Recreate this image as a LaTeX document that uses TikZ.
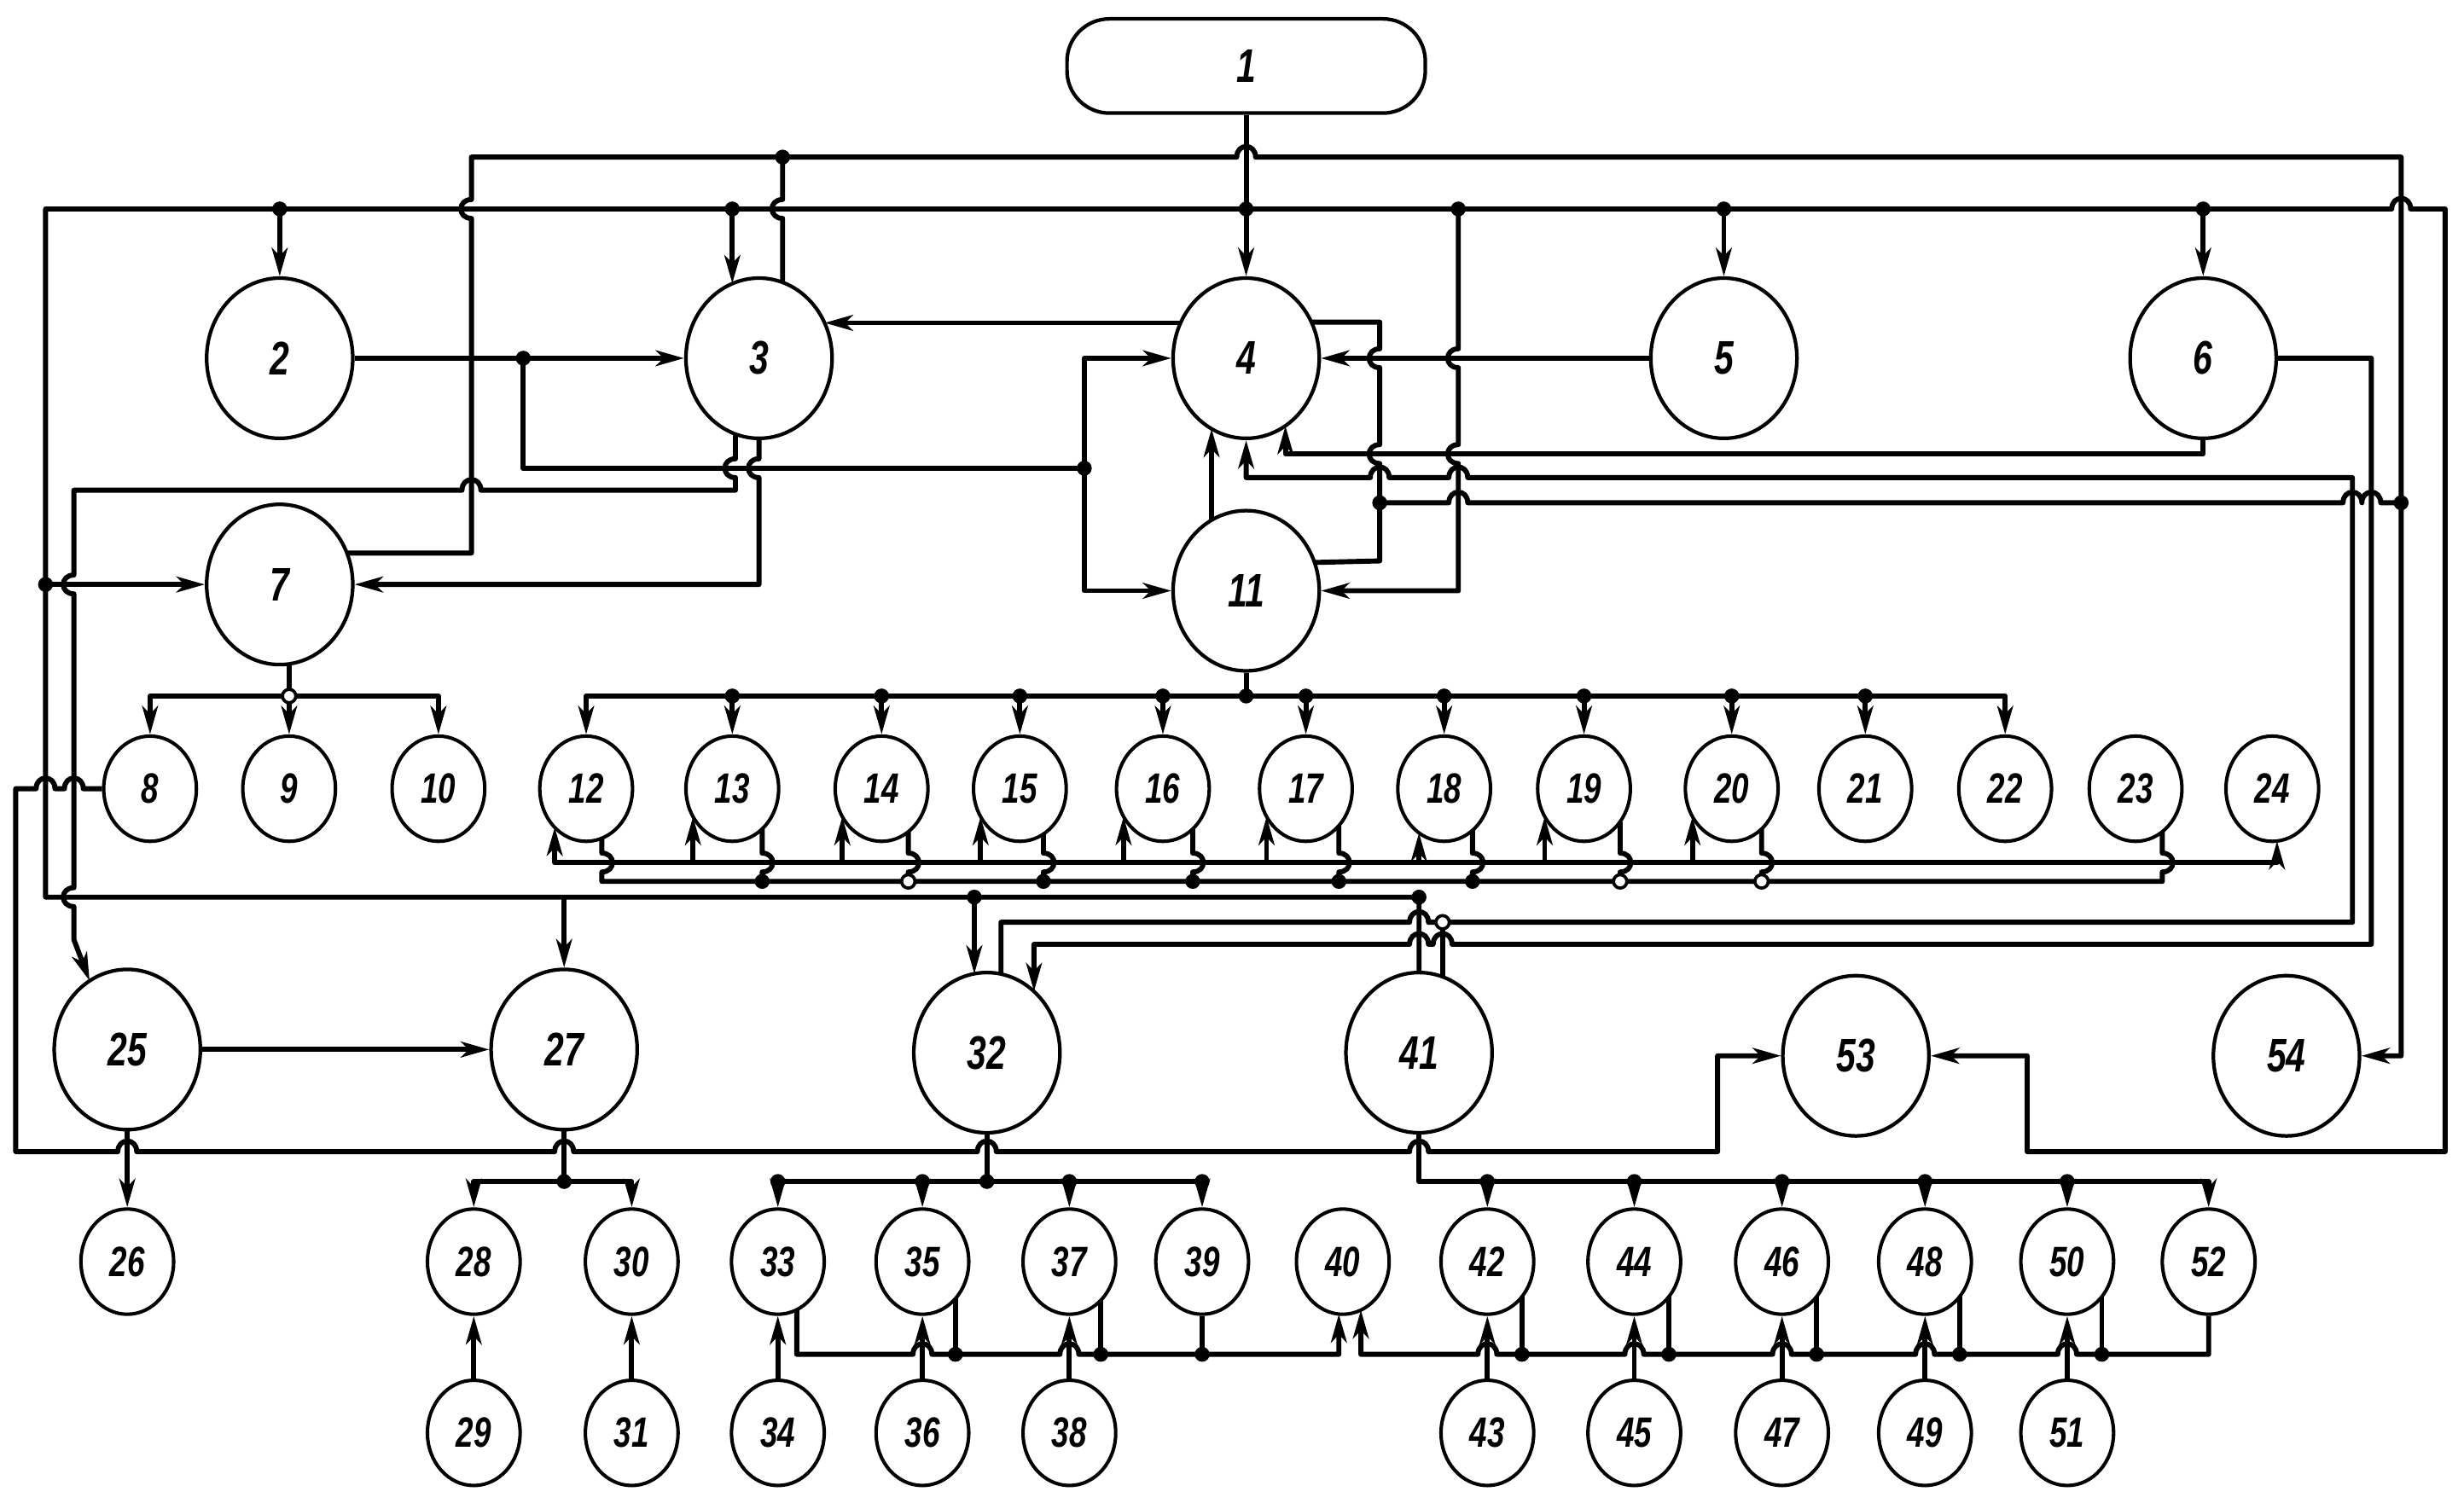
\documentclass[tikz,border=0pt]{standalone}
\usepackage{fontspec}
\setmainfont{Liberation Sans}
\usetikzlibrary{shapes.geometric,arrows.meta,calc}
\newcommand\lb[1]{\scalebox{0.74}[1]{#1}}
\tikzset{
 big/.style={ellipse,draw,line width=2.3pt,minimum width=93pt,minimum height=102pt,inner sep=0pt,font=\fontsize{30}{30}\selectfont\bfseries\itshape},
 sml/.style={ellipse,draw,line width=2.2pt,minimum width=59pt,minimum height=67pt,inner sep=0pt,font=\fontsize{27}{27}\selectfont\bfseries\itshape},
 ln/.style={line width=3.2pt,line join=round},
 arr/.style={ln,-{Stealth[length=18pt,width=10pt,inset=5pt]}},
 darr/.style={ln,{Stealth[length=18pt,width=10pt,inset=5pt]}-{Stealth[length=18pt,width=10pt,inset=5pt]}},
 dot/.style={circle,fill,inner sep=0pt,minimum size=9.5pt},
 odot/.style={circle,draw,fill=white,line width=2pt,inner sep=0pt,minimum size=8.5pt},
 hR/.style args={#1,#2}{insert path={-- ({#1-6},{#2}) .. controls ({#1-6},{#2-9}) and ({#1+6},{#2-9}) .. ({#1+6},{#2})}},
 hL/.style args={#1,#2}{insert path={-- ({#1+6},{#2}) .. controls ({#1+6},{#2-9}) and ({#1-6},{#2-9}) .. ({#1-6},{#2})}},
 vD/.style args={#1,#2}{insert path={-- ({#1},{#2-6}) .. controls ({#1-9},{#2-6}) and ({#1-9},{#2+6}) .. ({#1},{#2+6})}},
 vU/.style args={#1,#2}{insert path={-- ({#1},{#2+6}) .. controls ({#1-9},{#2+6}) and ({#1-9},{#2-6}) .. ({#1},{#2-6})}},
 vDr/.style args={#1,#2}{insert path={-- ({#1},{#2-6}) .. controls ({#1+9},{#2-6}) and ({#1+9},{#2+6}) .. ({#1},{#2+6})}},
 vUr/.style args={#1,#2}{insert path={-- ({#1},{#2+6}) .. controls ({#1+9},{#2+6}) and ({#1+9},{#2-6}) .. ({#1},{#2-6})}},
}
\begin{document}
\begin{tikzpicture}[x=1pt,y=-1pt]
\useasboundingbox (0,0) rectangle (1568,960);
% ---------- nodes
\node[draw,line width=2.3pt,rounded corners=27pt,minimum width=228pt,minimum height=60pt,inner sep=0pt,font=\fontsize{30}{30}\selectfont\bfseries\itshape] (n1) at (793,42) {\lb{1}};
\node[big] (n2) at (178,228) {\lb{2}};
\node[big] (n3) at (483,228) {\lb{3}};
\node[big] (n4) at (793,228) {\lb{4}};
\node[big] (n5) at (1097,228) {\lb{5}};
\node[big] (n6) at (1402,228) {\lb{6}};
\node[big] (n7) at (178,372) {\lb{7}};
\node[big] (n11) at (793,376) {\lb{11}};
\foreach \n/\xx in {8/95.5,9/184,10/279,12/373,13/466,14/561,15/649,16/740,17/831,18/919,19/1008,20/1102,21/1187,22/1276,23/1359,24/1446}
  \node[sml] (n\n) at (\xx,502) {\lb{\n}};
\node[big] (n25) at (81,668) {\lb{25}};
\node[big] (n27) at (359,668) {\lb{27}};
\node[big] (n32) at (628,670) {\lb{32}};
\node[big] (n41) at (903,670) {\lb{41}};
\node[big] (n53) at (1181,672) {\lb{53}};
\node[big] (n54) at (1455,672) {\lb{54}};
\foreach \n/\xx in {26/81,28/301.5,30/402,33/495,35/587,37/680.5,39/765,40/854.5,42/946.5,44/1040,46/1134,48/1225,50/1315.5,52/1405.5}
  \node[sml] (n\n) at (\xx,803) {\lb{\n}};
\foreach \n/\xx in {29/301.5,31/402,34/495,36/587,38/680.5,43/946.5,45/1040,47/1134,49/1225,51/1315.5}
  \node[sml] (n\n) at (\xx,912) {\lb{\n}};
% ---------- main bus, line C and feed of 53
\draw[arr] (n41.north) -- (903,571) -- (29,571) -- (29,133) [hR={1528,133}] -- (1556,133) -- (1556,733) -- (1290,733) -- (1290,672) -- (n53.east);
\draw[arr] (n1.south) -- (n4.north);
\draw[arr] (178,133) -- (n2.north);
\draw[arr] (466,133) -- ($(n3.center)+(-17,-47.5)$);
\draw[arr] (1097,133) -- (n5.north);
\draw[arr] (1402,133) -- (n6.north);
% ---------- line from 7 to 54
\draw[arr] ($(n7.center)+(42.8,-20)$) -- (300,352) [vU={300,133}] -- (300,100) [hR={793,100}] -- (1528,100) -- (1528,672) -- (n54.east);
\draw[ln] (498,100) [vD={498,133}] -- ($(n3.center)+(15,-48.3)$);
% ---------- 2, 3, 4, 11 region
\draw[arr] (n2.east) -- (n3.west);
\draw[ln] (333,228) -- (333,298) -- (690,298);
\draw[arr] (690,298) -- (690,228) -- (n4.west);
\draw[arr] (690,298) -- (690,376) -- (n11.west);
\draw[arr] ($(n4.center)+(-41.7,-22.5)$) -- ($(n3.center)+(41.7,-22.5)$);
\draw[arr] ($(n3.center)+(-15,48.3)$) [vD={468,298}] -- (468,312) [hL={300,312}] -- (47,312) [vD={47,372}] [vD={47,571}] -- (47,598) -- ($(n25.center)+(-24,-43.7)$);
\draw[arr] (n3.south) [vD={483,298}] -- (483,372) -- (n7.east);
\draw[arr] (29,372) -- (n7.west);
\draw[arr] (n5.west) -- (n4.east);
\draw[ln] ($(n4.center)+(41.5,-23)$) -- (878,205) [vD={878,228}] [vD={878,289}] -- (878,357) -- ($(n11.center)+(43.5,-18)$);
\draw[ln] (878,320) [hR={928,320}] [hR={1497,320}] [hR={1509,320}] -- (1528,320);
\draw[arr] (928,133) [vD={928,228}] [vD={928,289}] -- (928,376) -- (n11.east);
\draw[arr] (n6.south) -- (1402,289) -- (818,289) -- ($(n4.center)+(25,43)$);
\draw[arr] ($(n11.center)+(-22,-44.9)$) -- ($(n4.center)+(-22,44.9)$);
\draw[arr] ($(n32.center)+(9,-50)$) -- (637,587) [hR={903,587}] -- (1497,587) -- (1497,304) [hL={928,304}] [hL={878,304}] -- (793,304) -- (n4.south);
\draw[arr] (n6.east) -- (1509,228) -- (1509,601) [hL={918,601}] [hL={903,601}] -- (658,601) -- ($(n32.center)+(30,-39)$);
\draw[ln] ($(n41.center)+(15,-48.3)$) -- (918,587);
% ---------- 7 outputs
\draw[ln] ($(n7.center)+(6,50.6)$) -- (184,443);
\draw[arr] (184,443) -- (95.5,443) -- (n8.north);
\draw[arr] (184,443) -- (n9.north);
\draw[arr] (184,443) -- (279,443) -- (n10.north);
% ---------- 11 outputs
\draw[ln] (n11.south) -- (793,443);
\draw[arr] (793,443) -- (373,443) -- (n12.north);
\draw[arr] (793,443) -- (1276,443) -- (n22.north);
\foreach \n/\xx in {13/466,14/561,15/649,16/740,17/831,18/919,19/1008,20/1102,21/1187}
  {\draw[arr] (\xx,443) -- (n\n.north); \node[dot] (u\n) at (\xx,443) {};}
% ---------- lines A and B under 12..24
\draw[darr] ($(n12.center)+(-20,24.6)$) -- (353,549) -- (1449,549) -- ($(n24.center)+(3,33.3)$);
\foreach \n/\xx in {13/441,14/536,15/624,16/715,17/806,19/983,20/1077}
  \draw[arr] (\xx,549) -- ($(n\n.center)+(-25,17.8)$);
\draw[arr] (903,549) -- ($(n18.center)+(-16,28.1)$);
\draw[ln] ($(n12.center)+(10,31.5)$) [vDr={383,549}] -- (383,561) -- (1376,561) [vUr={1376,549}] -- ($(n23.center)+(17,27.4)$);
\foreach \n/\xa/\ya/\xx in {13/19/25.6/485,14/17/27.4/578,15/15/28.8/664,16/19/25.6/759,17/21/23.5/852,18/18/26.5/937,19/23/21/1031,20/19/25.6/1121}
  \draw[ln] ($(n\n.center)+(\xa,\ya)$) [vDr={\xx,549}] -- (\xx,561);
\foreach \xx in {485,664,759,852,937} \node[dot] (v\xx) at (\xx,561) {};
\foreach \xx in {578,1031,1121} \node[odot] (w\xx) at (\xx,561) {};
% ---------- line C branches
\draw[arr] (359,571) -- (n27.north);
\draw[arr] (620,571) -- ($(n32.center)+(-8,-50.2)$);
% ---------- lower part
\draw[arr] (n25.east) -- (n27.west);
\draw[arr] (n25.south) -- (n26.north);
\draw[arr] (n8.west) [hL={47,502}] [hL={29,502}] -- (10,502) -- (10,733) [hR={81,733}] [hR={359,733}] [hR={628,733}] [hR={903,733}] -- (1093,733) -- (1093,672) -- (n53.west);
\draw[ln] (n27.south) -- (359,752);
\draw[arr] (359,752) -- (301.5,752) -- (n28.north);
\draw[arr] (359,752) -- (402,752) -- (n30.north);
\draw[arr] (n29.north) -- (n28.south);
\draw[arr] (n31.north) -- (n30.south);
\draw[ln] (n32.south) -- (628,752);
\draw[arr] (628,752) -- (495,752) -- (n33.north);
\draw[arr] (628,752) -- (765,752) -- (n39.north);
\draw[arr] (587,752) -- (n35.north);
\draw[arr] (680.5,752) -- (n37.north);
\draw[arr] (n34.north) -- (n33.south);
\draw[arr] (n36.north) -- (n35.south);
\draw[arr] (n38.north) -- (n37.south);
\draw[arr] ($(n33.center)+(12,30.6)$) -- (507,862) [hR={587,862}] [hR={680.5,862}] -- (852,862) -- ($(n40.center)+(-2.5,33.4)$);
\draw[ln] (608,862) -- ($(n35.center)+(21,23.5)$);
\draw[ln] (700.5,862) -- ($(n37.center)+(20,24.6)$);
\draw[ln] (765,862) -- (n39.south);
\draw[arr] (n52.south) -- (1405.5,862) [hL={1315.5,862}] [hL={1225,862}] [hL={1134,862}] [hL={1040,862}] [hL={946.5,862}] -- (866,862) -- ($(n40.center)+(11.5,30.8)$);
\foreach \n/\xx in {42/968.5,44/1062,46/1156,48/1247,50/1337.5}
  {\draw[ln] (\xx,862) -- ($(n\n.center)+(22,22.3)$); \node[dot] (y\n) at (\xx,862) {};}
\draw[arr] (n41.south) -- (903,752) -- (1405.5,752) -- (n52.north);
\foreach \n/\xx in {42/946.5,44/1040,46/1134,48/1225,50/1315.5}
  {\draw[arr] (\xx,752) -- (n\n.north); \node[dot] (z\n) at (\xx,752) {};}
\draw[arr] (n43.north) -- (n42.south);
\draw[arr] (n45.north) -- (n44.south);
\draw[arr] (n47.north) -- (n46.south);
\draw[arr] (n49.north) -- (n48.south);
\draw[arr] (n51.north) -- (n50.south);
% ---------- junction dots
\node[dot] (b1) at (178,133) {};
\node[dot] (b2) at (466,133) {};
\node[dot] (b3) at (793,133) {};
\node[dot] (b4) at (928,133) {};
\node[dot] (b5) at (1097,133) {};
\node[dot] (b6) at (1402,133) {};
\node[dot] (t1) at (498,100) {};
\node[dot] (r1) at (1528,320) {};
\node[dot] (m1) at (878,320) {};
\node[dot] (l1) at (29,372) {};
\node[dot] (k1) at (333,228) {};
\node[dot] (k2) at (690,298) {};
\node[dot] (c1) at (620,571) {};
\node[dot] (c2) at (903,571) {};
\node[dot] (e11) at (793,443) {};
\node[odot] (o7) at (184,443) {};
\node[odot] (o41) at (918,587) {};
\node[dot] (q27) at (359,752) {};
\node[dot] (q32) at (628,752) {};
\foreach \xx in {495,587,680.5,765} \node[dot] (s\xx) at (\xx,752) {};
\foreach \xx in {608,700.5,765} \node[dot] (p\xx) at (\xx,862) {};
\end{tikzpicture}
\end{document}
